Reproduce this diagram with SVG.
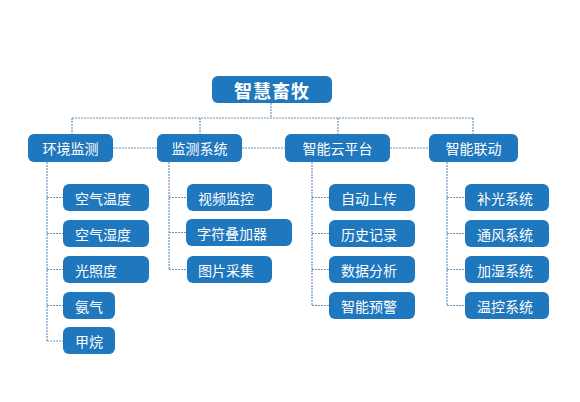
<svg xmlns="http://www.w3.org/2000/svg" width="580" height="402" viewBox="0 0 580 402">
<style>
.b{fill:#1f77bd;}
.t{fill:#ffffff;font-family:"Noto Sans CJK SC","Noto Sans",sans-serif;font-size:14px;text-anchor:middle;dominant-baseline:central;}
.s{text-anchor:start;}
.r{font-size:18px;font-weight:bold;letter-spacing:1px;}
.c{fill:none;stroke:#6a93b8;stroke-width:1.2;stroke-dasharray:2 1;}
</style>
<rect width="580" height="402" fill="#ffffff"/>
<g id="connectors">
<path class="c" d="M271 103V118M72 118H473M72 118V134M200 118V134M338 118V134M473 118V134"/>
<path class="c" d="M113 148H157M242 148H285M390 148H429"/>
<path class="c" d="M47 162V341M47 197.5H63M47 233.5H63M47 269.5H63M47 305.5H63M47 341H63"/>
<path class="c" d="M169 162V269.5M169 197.5H187M169 232.5H186M169 269.5H187"/>
<path class="c" d="M312 162V305.5M312 197.5H329M312 233.5H329M312 269.5H329M312 305.5H329"/>
<path class="c" d="M447 162V305.5M447 197.5H465M447 233.5H465M447 269.5H465M447 305.5H465"/>
</g>
<g id="root"><rect class="b" x="212" y="76" width="120" height="27" rx="6"/><text class="t r" x="272" y="89.5">智慧畜牧</text></g>
<g id="n1"><rect class="b" x="28" y="134" width="85" height="28" rx="6"/><text class="t" x="70.5" y="148">环境监测</text></g>
<g id="n2"><rect class="b" x="157" y="134" width="85" height="28" rx="6"/><text class="t" x="199.5" y="148">监测系统</text></g>
<g id="n3"><rect class="b" x="285" y="134" width="105" height="28" rx="6"/><text class="t" x="337.5" y="148">智能云平台</text></g>
<g id="n4"><rect class="b" x="429" y="134" width="89" height="28" rx="6"/><text class="t" x="473.5" y="148">智能联动</text></g>
<g id="n1a"><rect class="b" x="63" y="184" width="86" height="27" rx="6"/><text class="t s" x="75" y="197.5">空气温度</text></g>
<g id="n1b"><rect class="b" x="63" y="220" width="86" height="27" rx="6"/><text class="t s" x="75" y="233.5">空气湿度</text></g>
<g id="n1c"><rect class="b" x="63" y="256" width="86" height="27" rx="6"/><text class="t s" x="75" y="269.5">光照度</text></g>
<g id="n1d"><rect class="b" x="63" y="292" width="52" height="27" rx="6"/><text class="t s" x="75" y="305.5">氨气</text></g>
<g id="n1e"><rect class="b" x="63" y="327" width="52" height="27" rx="6"/><text class="t s" x="75" y="340.5">甲烷</text></g>
<g id="n2a"><rect class="b" x="187" y="184" width="85" height="27" rx="6"/><text class="t s" x="198" y="197.5">视频监控</text></g>
<g id="n2b"><rect class="b" x="186" y="219" width="106" height="27" rx="6"/><text class="t s" x="197" y="232.5">字符叠加器</text></g>
<g id="n2c"><rect class="b" x="187" y="256" width="85" height="27" rx="6"/><text class="t s" x="198" y="269.5">图片采集</text></g>
<g id="n3a"><rect class="b" x="329" y="184" width="86" height="27" rx="6"/><text class="t s" x="341" y="197.5">自动上传</text></g>
<g id="n3b"><rect class="b" x="329" y="220" width="86" height="27" rx="6"/><text class="t s" x="341" y="233.5">历史记录</text></g>
<g id="n3c"><rect class="b" x="329" y="256" width="86" height="27" rx="6"/><text class="t s" x="341" y="269.5">数据分析</text></g>
<g id="n3d"><rect class="b" x="329" y="292" width="86" height="27" rx="6"/><text class="t s" x="341" y="305.5">智能预警</text></g>
<g id="n4a"><rect class="b" x="465" y="184" width="84" height="27" rx="6"/><text class="t s" x="477" y="197.5">补光系统</text></g>
<g id="n4b"><rect class="b" x="465" y="220" width="84" height="27" rx="6"/><text class="t s" x="477" y="233.5">通风系统</text></g>
<g id="n4c"><rect class="b" x="465" y="256" width="84" height="27" rx="6"/><text class="t s" x="477" y="269.5">加湿系统</text></g>
<g id="n4d"><rect class="b" x="465" y="292" width="84" height="27" rx="6"/><text class="t s" x="477" y="305.5">温控系统</text></g>
</svg>
